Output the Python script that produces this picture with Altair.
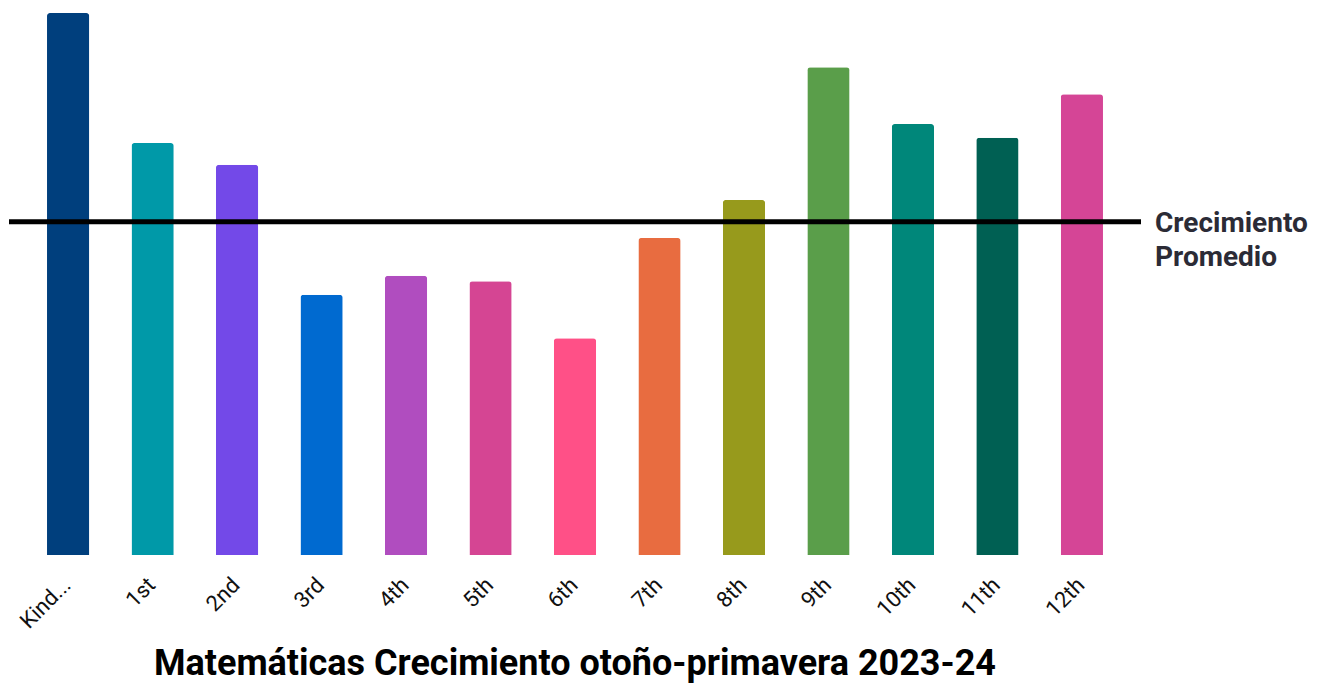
import altair as alt
import pandas as pd

grades = ["Kindergarten", "1st", "2nd", "3rd", "4th", "5th", "6th", "7th", "8th", "9th", "10th", "11th", "12th"]
growth = [20.0, 15.2, 14.4, 9.6, 10.3, 10.1, 8.0, 11.7, 13.1, 18.0, 15.9, 15.4, 17.0]
colors = ["#003f7d", "#0099a8", "#7349e8", "#006ad0", "#b04dbf", "#d54593", "#ff5087",
          "#e86c40", "#979a1c", "#5a9e4a", "#00877a", "#006053", "#d54596"]
average_growth = 12.3
average_label = ["Crecimiento", "Promedio"]

df = pd.DataFrame({"grade": grades, "growth": growth, "color": colors})
avg_df = pd.DataFrame({"avg": [average_growth], "label": [average_label]})

x = alt.X("grade:N", sort=grades, title=None,
          scale=alt.Scale(paddingInner=0.5, paddingOuter=0.45),
          axis=alt.Axis(labelAngle=-45, labelFontSize=22, labelFont="Roboto", labelColor="#111111",
                        domain=False, ticks=False, labelPadding=19, labelOffset=-8,
                        labelExpr="length(datum.label) > 6 ? slice(datum.label, 0, 4) + '...' : datum.label"))
y_scale = alt.Scale(domain=[0, 20], nice=False)

bars = alt.Chart(df).mark_bar(cornerRadiusTopLeft=3, cornerRadiusTopRight=3).encode(
    x=x,
    y=alt.Y("growth:Q", scale=y_scale, axis=None),
    color=alt.Color("color:N", scale=None),
)

rule = alt.Chart(avg_df).mark_rule(color="black", strokeWidth=5).encode(
    y=alt.Y("avg:Q", scale=y_scale),
    x=alt.value(0), x2=alt.value("width"),
)

text = alt.Chart(avg_df).mark_text(align="left", baseline="alphabetic", dy=10, dx=14, fontSize=28,
                                   font="Roboto", fontWeight="bold", color="#2b2b36",
                                   lineHeight=34).encode(
    y=alt.Y("avg:Q", scale=y_scale),
    x=alt.value("width"),
    text="label",
)

chart = alt.layer(bars, rule, text).properties(
    width=1310, height=675,
    autosize=alt.AutoSizeParams(type="fit", contains="padding"),
    padding={"left": -2, "top": 5, "right": 10, "bottom": 0},
    title=alt.TitleParams("Matemáticas Crecimiento otoño-primavera 2023-24", orient="bottom",
                          fontSize=36, font="Roboto", fontWeight="bold", color="#000000",
                          anchor="middle", offset=15),
).configure_view(stroke=None)

chart.save("out.html", embed_options={"renderer": "svg", "actions": False})
